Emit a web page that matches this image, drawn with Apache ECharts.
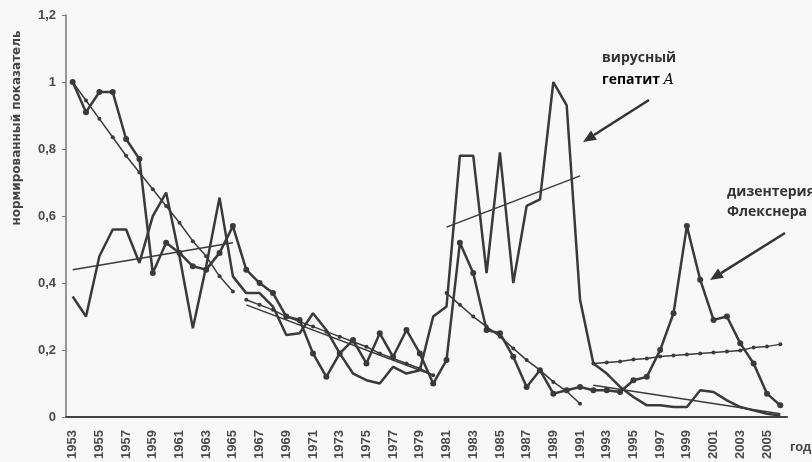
<!DOCTYPE html>
<html>
<head>
<meta charset="utf-8">
<script src="https://cdn.jsdelivr.net/npm/echarts@6/dist/echarts.min.js"></script>
<style>
  html, body { margin: 0; padding: 0; background: #f8f8f8; }
  #chart { width: 812px; height: 462px; }
</style>
</head>
<body>
<div id="chart"></div>
<script>
// годы
const years = ['1953', '1954', '1955', '1956', '1957', '1958', '1959', '1960', '1961', '1962',
  '1963', '1964', '1965', '1966', '1967', '1968', '1969', '1970', '1971', '1972',
  '1973', '1974', '1975', '1976', '1977', '1978', '1979', '1980', '1981', '1982',
  '1983', '1984', '1985', '1986', '1987', '1988', '1989', '1990', '1991', '1992',
  '1993', '1994', '1995', '1996', '1997', '1998', '1999', '2000', '2001', '2002',
  '2003', '2004', '2005', '2006'];

// дизентерия Флекснера (с маркерами)
const dysentery = [1.00, 0.91, 0.97, 0.97, 0.83, 0.77, 0.43, 0.52, 0.49, 0.45,
  0.44, 0.49, 0.57, 0.44, 0.40, 0.37, 0.30, 0.29, 0.19, 0.12,
  0.19, 0.23, 0.16, 0.25, 0.18, 0.26, 0.19, 0.10, 0.17, 0.52,
  0.43, 0.26, 0.25, 0.18, 0.09, 0.14, 0.07, 0.08, 0.09, 0.08,
  0.08, 0.075, 0.11, 0.12, 0.20, 0.31, 0.57, 0.41, 0.29, 0.30,
  0.22, 0.16, 0.07, 0.035];

// вирусный гепатит А (без маркеров)
const hepatitis = [0.36, 0.30, 0.48, 0.56, 0.56, 0.46, 0.60, 0.67, 0.48, 0.265,
  0.45, 0.655, 0.42, 0.37, 0.37, 0.33, 0.245, 0.25, 0.31, 0.26,
  0.19, 0.13, 0.11, 0.10, 0.15, 0.13, 0.14, 0.30, 0.33, 0.78,
  0.78, 0.43, 0.79, 0.40, 0.63, 0.65, 1.00, 0.93, 0.35, 0.16,
  0.13, 0.09, 0.06, 0.035, 0.035, 0.03, 0.03, 0.08, 0.075, 0.05,
  0.03, 0.02, 0.01, 0.005];

// тренды дизентерии (точками), по периодам
const dysTrendStart = ['1953', '1966', '1981', '1992'];
const dysTrend1 = [1.00, 0.945, 0.89, 0.835, 0.78, 0.73, 0.68, 0.63, 0.58, 0.525, 0.48, 0.42, 0.375];
const dysTrend2 = [0.35, 0.335, 0.32, 0.30, 0.285, 0.27, 0.255, 0.24, 0.225, 0.21, 0.19, 0.175, 0.16, 0.145, 0.125];
const dysTrend3 = [0.37, 0.335, 0.30, 0.27, 0.24, 0.205, 0.17, 0.14, 0.105, 0.077, 0.04];
const dysTrend4 = [0.16, 0.163, 0.166, 0.172, 0.175, 0.181, 0.184, 0.187, 0.19, 0.193, 0.196, 0.199, 0.208, 0.211, 0.217];

// тренды гепатита (тонкие прямые)
const hepTrendStart = ['1953', '1966', '1981', '1992'];
const hepTrendEnd = ['1965', '1980', '1991', '2006'];
const hepTrendFrom = [0.44, 0.335, 0.567, 0.095];
const hepTrendTo = [0.52, 0.125, 0.72, 0.01];

const yTicks = [0, 0.2, 0.4, 0.6, 0.8, 1, 1.2];

const ink = '#3a3a3a';
const chart = echarts.init(document.getElementById('chart'));

let series = [];
series.push({
  name: 'гепатит', type: 'line', data: hepatitis, symbol: 'none',
  lineStyle: { color: ink, width: 2.5 }, z: 3
});
series.push({
  name: 'дизентерия', type: 'line', data: dysentery, symbol: 'circle', symbolSize: 6,
  itemStyle: { color: ink }, lineStyle: { color: ink, width: 2.5 }, z: 4
});

[dysTrend1, dysTrend2, dysTrend3, dysTrend4].forEach((vals, i) => {
  let k = years.indexOf(dysTrendStart[i]);
  series.push({
    type: 'line', symbol: 'circle', symbolSize: 4,
    data: vals.map((v, j) => [years[k + j], v]),
    itemStyle: { color: ink }, lineStyle: { color: ink, width: 1.5 }, z: 2
  });
});

hepTrendStart.forEach((s, i) => {
  series.push({
    type: 'line', symbol: 'none',
    data: [[s, hepTrendFrom[i]], [hepTrendEnd[i], hepTrendTo[i]]],
    lineStyle: { color: ink, width: 1.5 }, z: 2
  });
});

// стрелка для подписи
function arrow(x1, y1, x2, y2) {
  let a = Math.atan2(y2 - y1, x2 - x1);
  let L = 13, W = 5.5;
  let bx = x2 - L * Math.cos(a), by = y2 - L * Math.sin(a);
  let px = -Math.sin(a) * W, py = Math.cos(a) * W;
  return [
    { type: 'line', shape: { x1: x1, y1: y1, x2: bx, y2: by }, style: { stroke: '#333', lineWidth: 2.5 } },
    { type: 'polygon', shape: { points: [[x2, y2], [bx + px, by + py], [bx - px, by - py]] }, style: { fill: '#333' } }
  ];
}

const labelFont = { fontFamily: 'Liberation Sans', fontWeight: 'bold', fontSize: 13, color: '#4a4a4a' };
const noteFont = { fontFamily: 'Open Sans', fontWeight: 'bold', fontSize: 14, fill: '#333' };

chart.setOption({
  animation: false,
  backgroundColor: '#f8f8f8',
  grid: { left: 66, right: 25, top: 15, bottom: 43 },
  xAxis: {
    type: 'category',
    data: years,
    boundaryGap: true,
    axisLine: { lineStyle: { color: '#444', width: 2 } },
    axisTick: { interval: 0, length: 3, lineStyle: { color: '#888' } },
    axisLabel: Object.assign({ interval: 1, rotate: 90, margin: 13 }, labelFont)
  },
  yAxis: {
    type: 'value',
    min: 0, max: 1.2, interval: 0.2,
    splitLine: { show: false },
    axisLine: { show: true, lineStyle: { color: '#777', width: 1.5 } },
    axisTick: { show: true, length: 4, lineStyle: { color: '#777' } },
    axisLabel: Object.assign({
      margin: 10,
      formatter: v => String(Math.round(v * 10) / 10).replace('.', ',')
    }, labelFont)
  },
  series: series,
  graphic: [
    {
      type: 'text', x: 17, y: 128, rotation: Math.PI / 2,
      style: { text: 'нормированный показатель', fontFamily: 'DejaVu Sans', fontWeight: 'bold',
        fontSize: 12, fill: '#444', textAlign: 'center', textVerticalAlign: 'middle' }
    },
    {
      type: 'text', x: 790, y: 447,
      style: { text: 'годы', fontFamily: 'Liberation Sans', fontWeight: 'bold', fontSize: 13,
        fill: '#444', textAlign: 'left', textVerticalAlign: 'middle' }
    },
    {
      type: 'text', x: 602, y: 58,
      style: Object.assign({ text: 'вирусный', textVerticalAlign: 'middle' }, noteFont)
    },
    {
      type: 'text', x: 602, y: 80,
      style: {
        text: '{n|гепатит }{i|A}', textVerticalAlign: 'middle',
        rich: {
          n: { fontFamily: 'Open Sans', fontWeight: 'bold', fontSize: 14, color: '#333' },
          i: { fontFamily: 'DejaVu Serif', fontStyle: 'italic', fontSize: 14, color: '#333' }
        }
      }
    },
    {
      type: 'text', x: 727, y: 192,
      style: Object.assign({ text: 'дизентерия', textVerticalAlign: 'middle' }, noteFont)
    },
    {
      type: 'text', x: 727, y: 212,
      style: Object.assign({ text: 'Флекснера', textVerticalAlign: 'middle' }, noteFont)
    }
  ].concat(arrow(649, 100, 583, 142), arrow(785, 233, 710, 280))
});
</script>
</body>
</html>
